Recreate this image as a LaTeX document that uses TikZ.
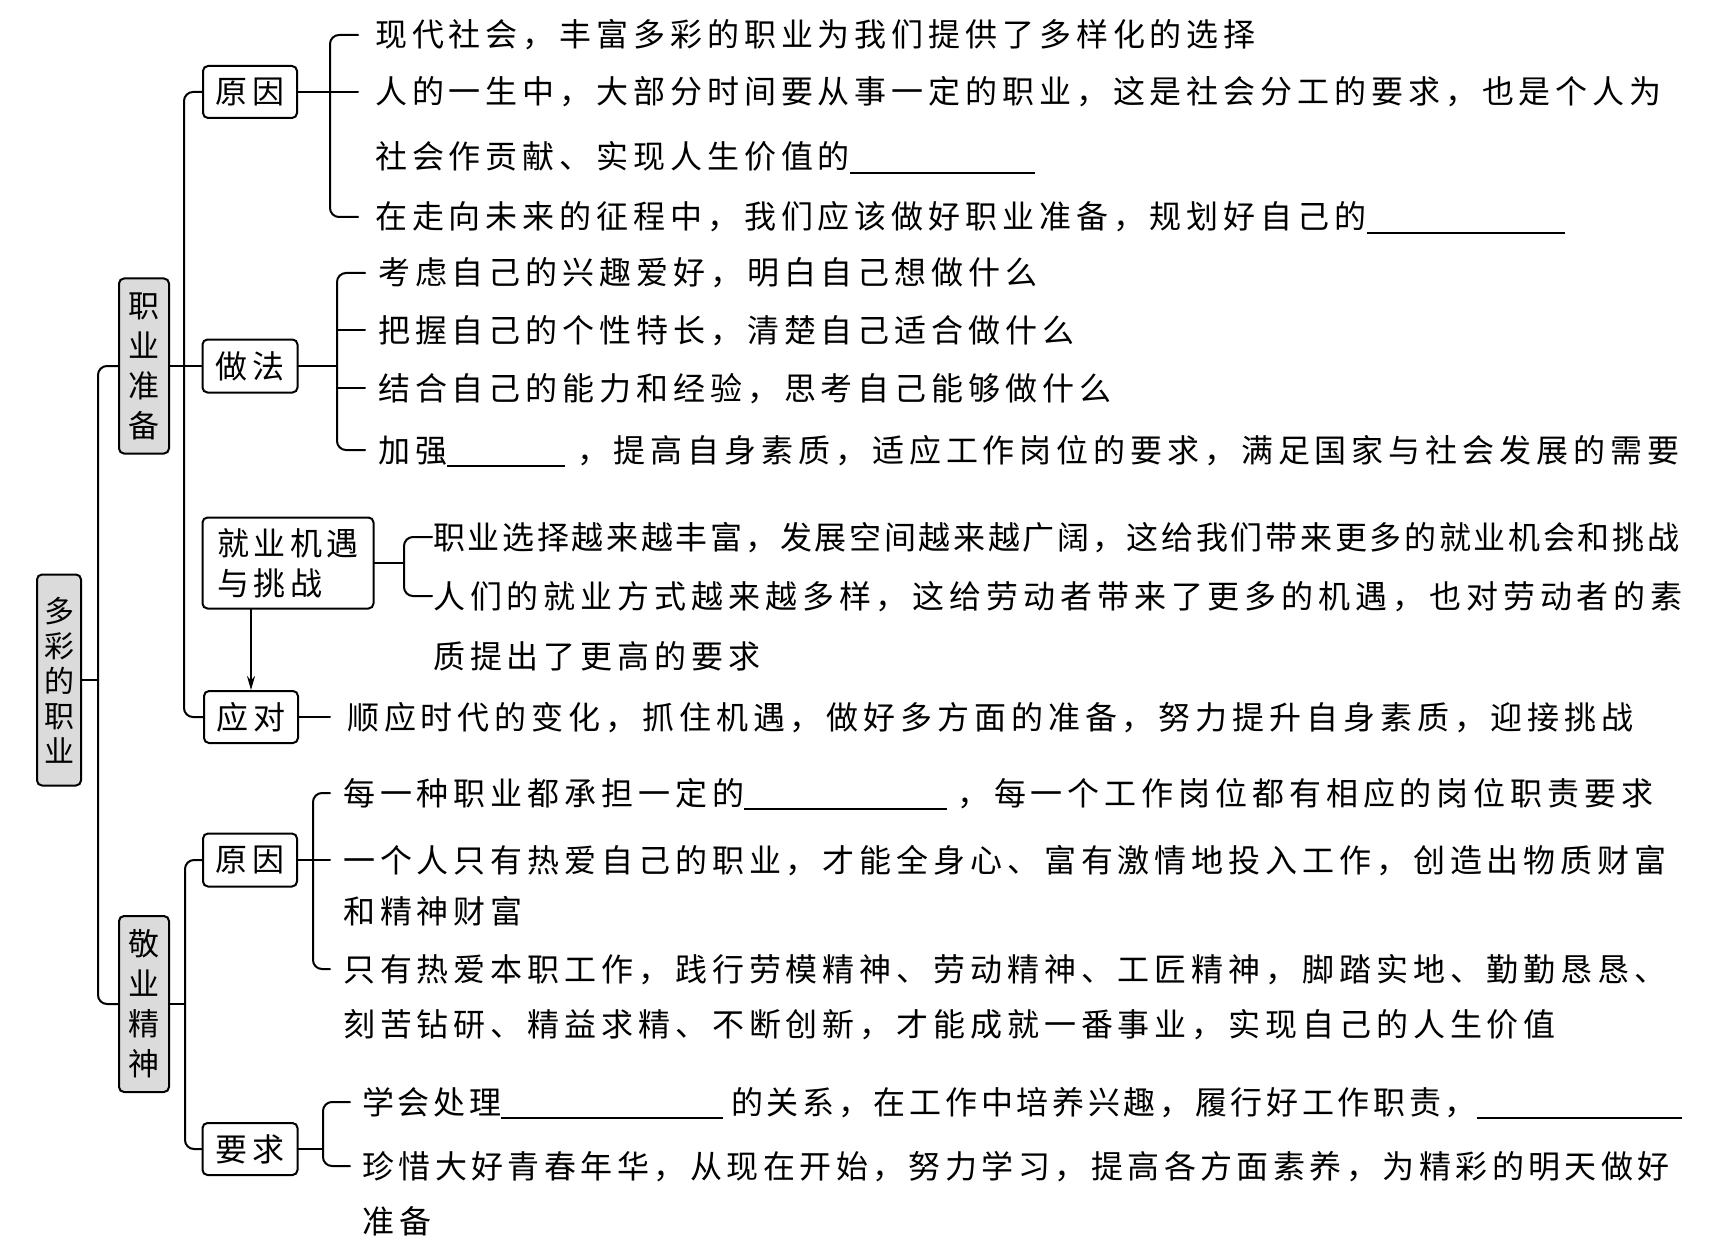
\documentclass[tikz,border=0pt]{standalone}
\usepackage{fontspec}
\newfontfamily\cjk[LetterSpace=15.3]{Noto Sans CJK SC}
\newfontfamily\cjkm[LetterSpace=13.9]{Noto Sans CJK SC}
\newfontfamily\cjks[LetterSpace=11.5]{Noto Sans CJK SC}
\newfontfamily\cjkt[LetterSpace=8.4]{Noto Sans CJK SC}
\newfontfamily\cjkb{Noto Sans CJK SC}
\usetikzlibrary{arrows.meta}
\newcommand\myblank[1]{\rule[-5pt]{#1}{2pt}}
\tikzset{
  ln/.style={line width=2pt, line join=round, line cap=round},
  br/.style={ln, rounded corners=9pt},
  box/.style={draw, line width=2pt, rounded corners=5pt, inner sep=0pt,
    font=\cjkb\fontsize{32}{40}\selectfont},
  gbox/.style={box, fill=black!14, align=center, font=\cjkb\fontsize{31}{40}\selectfont},
  txt/.style={anchor=west, inner sep=0pt, text height=27pt, text depth=3pt,
    font=\cjk\fontsize{32}{36}\selectfont},
}
\begin{document}
\begin{tikzpicture}[x=1pt,y=-1pt]
\useasboundingbox (0,0) rectangle (1720,1246);
\fill[white] (0,0) rectangle (1720,1246);

% ---------- boxes ----------
\node[gbox, minimum width=44pt, minimum height=211pt, font=\cjkb\fontsize{30}{35}\selectfont] (root) at (59,680) {多\\彩\\的\\职\\业};
\node[gbox, minimum width=50pt, minimum height=175pt] (zyzb) at (144,366) {职\\业\\准\\备};
\node[gbox, minimum width=50pt, minimum height=176pt] (jyjs) at (144,1004) {敬\\业\\精\\神};
\node[box, minimum width=94pt, minimum height=52pt] (yy1) at (250,92) {原\kern6pt 因};
\node[box, minimum width=95pt, minimum height=53pt] (zf) at (250,366) {做\kern6pt 法};
\node[box, minimum width=171pt, minimum height=91pt, align=left, font=\cjkm\fontsize{32}{40}\selectfont] (jy) at (288,563) {就业机遇\\与挑战};
\node[box, minimum width=94pt, minimum height=52pt] (yd) at (251,717) {应\kern6pt 对};
\node[box, minimum width=94pt, minimum height=53pt] (yy2) at (250,860) {原\kern6pt 因};
\node[box, minimum width=95pt, minimum height=52pt] (yq) at (250,1149) {要\kern6pt 求};

% ---------- texts ----------
\node[txt] (a1) at (375,35) {现代社会，丰富多彩的职业为我们提供了多样化的选择};
\node[txt] (a2) at (375,92) {人的一生中，大部分时间要从事一定的职业，这是社会分工的要求，也是个人为};
\node[txt] (a3) at (375,157) {社会作贡献、实现人生价值的\myblank{185pt}};
\node[txt] (a4) at (375,217) {在走向未来的征程中，我们应该做好职业准备，规划好自己的\myblank{198pt}};

\node[txt] (b1) at (378,273) {考虑自己的兴趣爱好，明白自己想做什么};
\node[txt] (b2) at (378,330) {把握自己的个性特长，清楚自己适合做什么};
\node[txt] (b3) at (378,388) {结合自己的能力和经验，思考自己能够做什么};
\node[txt] (b4) at (378,450) {加强\myblank{118pt}\hspace{12pt}，提高自身素质，适应工作岗位的要求，满足国家与社会发展的需要};

\node[txt, font=\cjkt\fontsize{32}{36}\selectfont] (c1) at (433,537) {职业选择越来越丰富，发展空间越来越广阔，这给我们带来更多的就业机会和挑战};
\node[txt] (c2) at (433,596) {人们的就业方式越来越多样，这给劳动者带来了更多的机遇，也对劳动者的素};
\node[txt] (c3) at (433,656) {质提出了更高的要求};

\node[txt] (d1) at (347,717) {顺应时代的变化，抓住机遇，做好多方面的准备，努力提升自身素质，迎接挑战};

\node[txt] (e1) at (343,793) {每一种职业都承担一定的\myblank{203pt}\hspace{10pt}，每一个工作岗位都有相应的岗位职责要求};
\node[txt] (e2) at (343,860) {一个人只有热爱自己的职业，才能全身心、富有激情地投入工作，创造出物质财富};
\node[txt] (e3) at (343,911) {和精神财富};
\node[txt] (e4) at (343,969) {只有热爱本职工作，践行劳模精神、劳动精神、工匠精神，脚踏实地、勤勤恳恳、};
\node[txt] (e5) at (343,1024) {刻苦钻研、精益求精、不断创新，才能成就一番事业，实现自己的人生价值};

\node[txt, font=\cjks\fontsize{32}{36}\selectfont] (f1) at (362,1102) {学会处理\myblank{222pt}\hspace{8pt}的关系，在工作中培养兴趣，履行好工作职责，\myblank{205pt}};
\node[txt, font=\cjkm\fontsize{32}{36}\selectfont] (f2) at (362,1166) {珍惜大好青春年华，从现在开始，努力学习，提高各方面素养，为精彩的明天做好};
\node[txt] (f3) at (362,1221) {准备};

% ---------- connectors ----------
\coordinate (rs) at (98,680);
\draw[ln] (root.east) -- (rs);
\draw[br] (zyzb.west) -| (rs) |- (jyjs.west);

\coordinate (zs) at (184,366);
\draw[br] (yy1.west) -| (zs) |- (yd.west);
\draw[ln] (zyzb.east) -- (zf.west);

\coordinate (as) at (330,92);
\draw[br] ([xshift=-17pt]a1.west) -| (as) |- ([xshift=-17pt]a4.west);
\draw[ln] (yy1.east) -- ([xshift=-17pt]a2.west);

\coordinate (bs) at (337,366);
\draw[br] ([xshift=-13pt]b1.west) -| (bs) |- ([xshift=-13pt]b4.west);
\draw[ln] (zf.east) -- (bs);
\draw[ln] (bs |- b2.west) -- ([xshift=-13pt]b2.west);
\draw[ln] (bs |- b3.west) -- ([xshift=-13pt]b3.west);

\coordinate (cs) at (404,563);
\draw[br] ([xshift=-1pt]c1.west) -| (cs) |- ([xshift=-1pt]c2.west);
\draw[ln] (jy.east) -- (cs);

\draw[ln, -{Stealth[length=14pt,width=8pt]}] (jy.south -| yd.north) -- (yd.north);
\draw[ln] (yd.east) -- ([xshift=-17pt]d1.west);

\coordinate (js) at (185,1004);
\draw[br] (yy2.west) -| (js) |- (yq.west);
\draw[ln] (jyjs.east) -- (js);

\coordinate (es) at (313,860);
\draw[br] ([xshift=-13pt]e1.west) -| (es) |- ([xshift=-13pt]e4.west);
\draw[ln] (yy2.east) -- ([xshift=-13pt]e2.west);

\coordinate (fs) at (323,1149);
\draw[br] ([xshift=-12pt]f1.west) -| (fs) |- ([xshift=-12pt]f2.west);
\draw[ln] (yq.east) -- (fs);
\end{tikzpicture}
\end{document}
